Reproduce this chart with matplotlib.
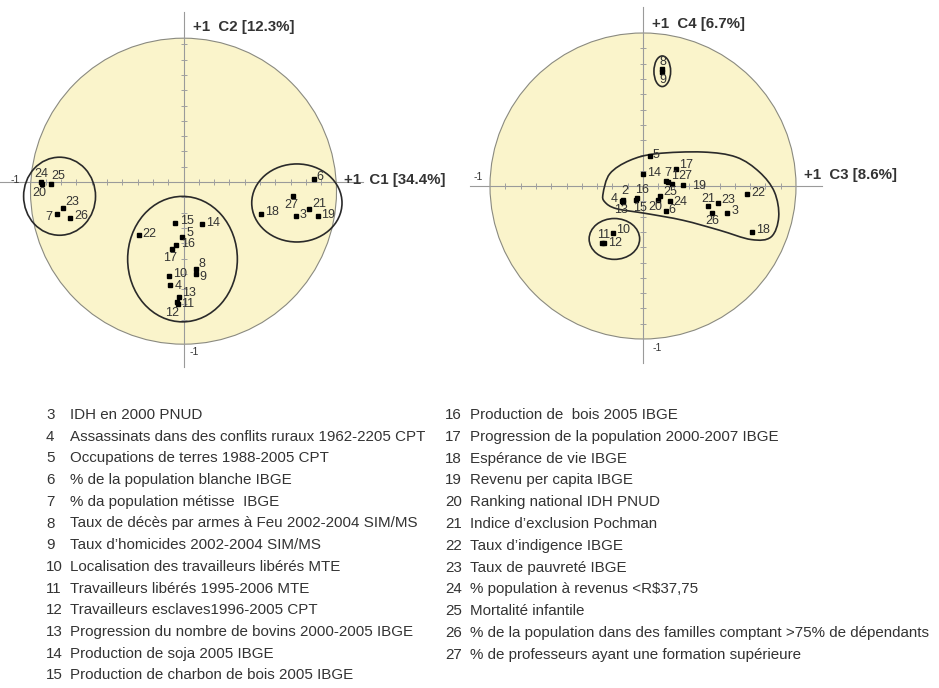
import matplotlib
matplotlib.use("Agg")
from matplotlib import pyplot as plt
from matplotlib.patches import Circle, Ellipse, PathPatch
from matplotlib.path import Path
import numpy as np

W, H = 939, 688

# ---- plan C1 / C2 ----
c12_labels = ["24", "20", "25", "23", "7", "26", "15", "14", "22", "5", "16", "17", "8", "9",
              "10", "4", "13", "11", "12", "18", "27", "6", "21", "3", "19"]
c12_x = [-0.93, -0.925, -0.865, -0.79, -0.83, -0.74, -0.057, 0.124, -0.293, -0.011, -0.05, -0.072,
         0.08, 0.08, -0.093, -0.087, -0.028, -0.043, -0.035, 0.504, 0.717, 0.852, 0.82, 0.733, 0.878]
c12_y = [0.0, -0.015, -0.01, -0.17, -0.21, -0.235, -0.267, -0.274, -0.348, -0.359, -0.415, -0.437,
         -0.567, -0.60, -0.615, -0.67, -0.75, -0.783, -0.80, -0.207, -0.089, 0.02, -0.174, -0.224, -0.224]

# ---- plan C3 / C4 ----
c34_labels = ["8", "9", "5", "14", "17", "7", "1", "27", "19", "4", "2", "13", "16", "15", "25",
              "20", "24", "6", "21", "23", "26", "3", "22", "18", "10", "11", "12"]
c34_x = [0.122, 0.122, 0.043, 0.0, 0.217, 0.152, 0.161, 0.189, 0.261, -0.135, -0.128, -0.130,
         -0.039, -0.048, 0.113, 0.100, 0.174, 0.152, 0.422, 0.487, 0.450, 0.548, 0.680, 0.713,
         -0.196, -0.265, -0.257]
c34_y = [0.764, 0.745, 0.196, 0.080, 0.109, 0.030, 0.028, 0.011, 0.009, -0.098, -0.093, -0.102,
         -0.078, -0.093, -0.065, -0.089, -0.096, -0.163, -0.133, -0.109, -0.176, -0.174, -0.050,
         -0.300, -0.304, -0.372, -0.372]

# légende
leg_num_left = ["3", "4", "5", "6", "7", "8", "9", "10", "11", "12", "13", "14", "15"]
leg_txt_left = [
    "IDH en 2000 PNUD",
    "Assassinats dans des conflits ruraux 1962-2205 CPT",
    "Occupations de terres 1988-2005 CPT",
    "% de la population blanche IBGE",
    "% da population métisse  IBGE",
    "Taux de décès par armes à Feu 2002-2004 SIM/MS",
    "Taux d\u2019homicides 2002-2004 SIM/MS",
    "Localisation des travailleurs libérés MTE",
    "Travailleurs libérés 1995-2006 MTE",
    "Travailleurs esclaves1996-2005 CPT",
    "Progression du nombre de bovins 2000-2005 IBGE",
    "Production de soja 2005 IBGE",
    "Production de charbon de bois 2005 IBGE",
]
leg_num_right = ["16", "17", "18", "19", "20", "21", "22", "23", "24", "25", "26", "27"]
leg_txt_right = [
    "Production de  bois 2005 IBGE",
    "Progression de la population 2000-2007 IBGE",
    "Espérance de vie IBGE",
    "Revenu per capita IBGE",
    "Ranking national IDH PNUD",
    "Indice d\u2019exclusion Pochman",
    "Taux d\u2019indigence IBGE",
    "Taux de pauvreté IBGE",
    "% population à revenus <R$37,75",
    "Mortalité infantile",
    "% de la population dans des familles comptant >75% de dépendants",
    "% de professeurs ayant une formation supérieure",
]

# décalage des étiquettes (pixels)
off12 = {"24": (0, 8), "20": (-3, -9), "25": (7, 8), "23": (10, 6), "7": (-8, -3), "26": (11, 2),
         "15": (12, 2), "14": (11, 1), "22": (11, 1), "5": (8, 4), "16": (12, 1), "17": (-2, -9),
         "8": (6, 5), "9": (7, -3), "10": (11, 2), "4": (8, -1), "13": (10, 4), "11": (11, -2),
         "12": (-6, -9), "18": (11, 2), "27": (-2, -9), "6": (6, 2), "21": (10, 5), "3": (7, 1),
         "19": (10, 1)}
off34 = {"8": (1, 7), "9": (1, -8), "5": (6, 1), "14": (11, 1), "17": (10, 4), "7": (2, 8),
         "1": (7, 6), "27": (13, 8), "19": (16, -1), "4": (-8, 2), "2": (1, 9), "13": (-2, -8),
         "16": (5, 8), "15": (4, -8), "25": (10, 4), "20": (-3, -7), "24": (11, -1), "6": (6, 1),
         "21": (1, 7), "23": (11, 3), "26": (0, -8), "3": (8, 2), "22": (11, 1), "18": (11, 2),
         "10": (10, 3), "11": (1, 8), "12": (11, 0)}

FILL = "#faf4cb"
TXT = "#333333"
plt.rcParams["font.family"] = ["Liberation Sans", "DejaVu Sans"]

fig = plt.figure(figsize=(W / 100, H / 100), dpi=100)
fig.patch.set_facecolor("white")


def make_axes(cx, cy, unit, half=1.25):
    rect = [(cx - half * unit) / W, 1 - (cy + half * unit) / H, 2 * half * unit / W, 2 * half * unit / H]
    ax = fig.add_axes(rect)
    ax.set_xlim(-half, half)
    ax.set_ylim(-half, half)
    ax.axis("off")
    return ax


def draw_base(ax, circ_dy, hx, vy):
    ax.add_patch(Circle((0, circ_dy), 1.0, facecolor=FILL, edgecolor="#8a8a80", lw=0.8, zorder=1))
    ax.plot(hx, [0, 0], color="#9a9a9a", lw=0.8, zorder=2, clip_on=False)
    ax.plot([0, 0], vy, color="#9a9a9a", lw=0.8, zorder=2, clip_on=False)
    t = np.round(np.arange(-0.9, 0.95, 0.1), 2)
    t = t[t != 0]
    ax.plot(t, np.zeros_like(t), ls="none", marker="|", ms=4, color="#a0a0a0", mew=0.7, zorder=2)
    ax.plot(np.zeros_like(t), t, ls="none", marker="_", ms=4, color="#a0a0a0", mew=0.7, zorder=2)


def draw_points(ax, labels, xs, ys, offs):
    ax.plot(xs, ys, ls="none", marker="s", ms=2.4, color="black", zorder=5)
    for lab, x, y in zip(labels, xs, ys):
        dx, dy = offs[lab]
        ax.annotate(lab, (x, y), xytext=(dx, dy), textcoords="offset pixels",
                    ha="center", va="center", fontsize=9, color=TXT, zorder=6)


# --- graphique gauche ---
ax1 = make_axes(183.5, 182, 153)
draw_base(ax1, -0.06, [-1.2, 1.17], [-1.21, 1.11])
for (ex, ey, ew, eh) in [(-0.81, -0.093, 0.47, 0.51), (-0.0065, -0.504, 0.717, 0.82), (0.741, -0.137, 0.59, 0.51)]:
    ax1.add_patch(Ellipse((ex, ey), ew, eh, facecolor="none", edgecolor="#2a2a2a", lw=1.2, zorder=4))
draw_points(ax1, c12_labels, c12_x, c12_y, off12)
ax1.text(0.06, 1.01, "+1  C2 [12.3%]", fontsize=10.8, fontweight="bold", color=TXT, va="center", ha="left")
ax1.text(1.05, 0.01, "+1  C1 [34.4%]", fontsize=10.8, fontweight="bold", color=TXT, va="center", ha="left")
ax1.text(-1.1, 0.015, "-1", fontsize=7.5, color=TXT, va="center", ha="center")
ax1.text(0.07, -1.11, "-1", fontsize=7.5, color=TXT, va="center", ha="center")

# --- graphique droit ---
ax2 = make_axes(643, 186, 153)
draw_base(ax2, 0.0, [-1.13, 1.17], [-1.16, 1.17])
ax2.add_patch(Ellipse((0.126, 0.75), 0.109, 0.2, facecolor="none", edgecolor="#2a2a2a", lw=1.2, zorder=4))
ax2.add_patch(Ellipse((-0.187, -0.346), 0.33, 0.267, facecolor="none", edgecolor="#2a2a2a", lw=1.2, zorder=4))
blob = np.array([(-0.261, -0.05), (-0.217, 0.08), (-0.087, 0.167), (0.087, 0.211), (0.391, 0.222),
                 (0.609, 0.189), (0.761, 0.091), (0.859, -0.039), (0.887, -0.202), (0.837, -0.333),
                 (0.707, -0.35), (0.5, -0.289), (0.261, -0.224), (0.022, -0.18), (-0.174, -0.148),
                 (-0.25, -0.104)])
n = len(blob)
verts = [blob[0]]
codes = [Path.MOVETO]
for i in range(n):
    p0, p1, p2, p3 = blob[i - 1], blob[i], blob[(i + 1) % n], blob[(i + 2) % n]
    verts += [p1 + (p2 - p0) / 6, p2 - (p3 - p1) / 6, p2]
    codes += [Path.CURVE4] * 3
ax2.add_patch(PathPatch(Path(verts, codes), facecolor="none", edgecolor="#2a2a2a", lw=1.2, zorder=4))
draw_points(ax2, c34_labels, c34_x, c34_y, off34)
ax2.text(0.06, 1.06, "+1  C4 [6.7%]", fontsize=10.8, fontweight="bold", color=TXT, va="center", ha="left")
ax2.text(1.05, 0.07, "+1  C3 [8.6%]", fontsize=10.8, fontweight="bold", color=TXT, va="center", ha="left")
ax2.text(-1.08, 0.06, "-1", fontsize=7.5, color=TXT, va="center", ha="center")
ax2.text(0.09, -1.06, "-1", fontsize=7.5, color=TXT, va="center", ha="center")

# --- légende ---
for i, (num, txt) in enumerate(zip(leg_num_left, leg_txt_left)):
    y = 1 - (415 + i * 21.7) / H
    fig.text(46 / W, y, num, fontsize=10.9, color=TXT, va="center", ha="left")
    fig.text(70 / W, y, txt, fontsize=10.9, color=TXT, va="center", ha="left")
for i, (num, txt) in enumerate(zip(leg_num_right, leg_txt_right)):
    y = 1 - (415 + i * 21.8) / H
    fig.text(445 / W, y, num, fontsize=10.9, color=TXT, va="center", ha="left")
    fig.text(470 / W, y, txt, fontsize=10.9, color=TXT, va="center", ha="left")

plt.savefig("out.png", dpi=100, facecolor="white")
